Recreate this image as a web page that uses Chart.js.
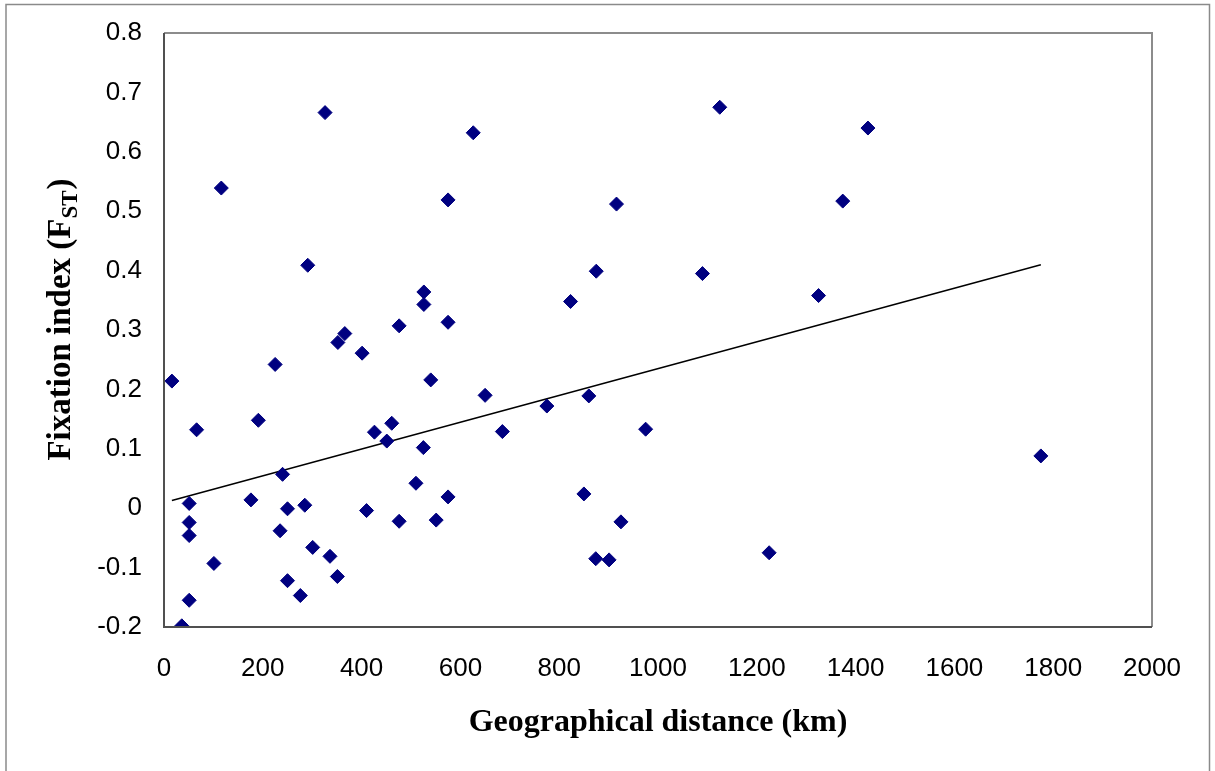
<!DOCTYPE html>
<html>
<head>
<meta charset="utf-8">
<script src="https://cdn.jsdelivr.net/npm/chart.js@4.4.0/dist/chart.umd.min.js"></script>
<style>
  html, body { margin: 0; padding: 0; background: #ffffff; }
  #wrap { width: 1215px; height: 771px; }
</style>
</head>
<body>
<div id="wrap"><canvas id="c" width="1215" height="771"></canvas></div>
<script>
// Geographical distance (km) between population pairs
const distanceKm = [
  326, 626, 116, 575, 291, 526, 526, 823, 476, 575,
  366, 352, 401, 225, 16, 540, 650, 775, 191, 66,
  461, 426, 451, 685, 525, 240, 510, 575, 176, 51,
  250, 285, 410, 51, 476, 551, 51, 235, 301, 336,
  101, 351, 250, 276, 51, 36, 1125, 1425, 916, 1374,
  875, 1090, 1325, 860, 975, 850, 925, 874, 901, 1225,
  1775
];
// Fixation index (FST) for each pair
const fstValues = [
  0.666, 0.632, 0.539, 0.519, 0.409, 0.364, 0.343, 0.348, 0.307, 0.313,
  0.294, 0.279, 0.261, 0.242, 0.214, 0.216, 0.190, 0.172, 0.148, 0.132,
  0.143, 0.128, 0.113, 0.129, 0.102, 0.057, 0.042, 0.019, 0.014, 0.008,
  -0.001, 0.005, -0.004, -0.024, -0.022, -0.020, -0.046, -0.038, -0.066, -0.081,
  -0.093, -0.115, -0.122, -0.147, -0.155, -0.198, 0.675, 0.640, 0.512, 0.517,
  0.399, 0.395, 0.358, 0.189, 0.133, 0.024, -0.023, -0.085, -0.087, -0.075,
  0.088
];
// Linear trend line end points
const trendKm = [16, 1775];
const trendFst = [0.013, 0.410];

const xTitle = 'Geographical distance (km)';
const yTitleMain = 'Fixation index (F';
const yTitleSub = 'ST';
const yTitleEnd = ')';

const scatterData = distanceKm.map((d, i) => ({ x: d, y: fstValues[i] }));
const trendData = trendKm.map((d, i) => ({ x: d, y: trendFst[i] }));

const framePlugin = {
  id: 'framePlugin',
  beforeDraw(chart) {
    const ctx = chart.ctx;
    ctx.save();
    ctx.fillStyle = '#ffffff';
    ctx.fillRect(0, 0, chart.width, chart.height);
    ctx.strokeStyle = '#8a8a8a';
    ctx.lineWidth = 1.5;
    ctx.beginPath();
    ctx.moveTo(6, 800);
    ctx.lineTo(6, 4.5);
    ctx.lineTo(1209.5, 4.5);
    ctx.lineTo(1209.5, 800);
    ctx.stroke();
    ctx.restore();
  },
  afterDatasetsDraw(chart) {
    const ctx = chart.ctx;
    const a = chart.chartArea;
    ctx.save();
    ctx.lineWidth = 2;
    ctx.strokeStyle = '#8c8c8c';
    ctx.beginPath();
    ctx.moveTo(a.left, a.top);
    ctx.lineTo(a.right, a.top);
    ctx.lineTo(a.right, a.bottom);
    ctx.stroke();
    ctx.strokeStyle = '#505050';
    ctx.beginPath();
    ctx.moveTo(a.left, a.top);
    ctx.lineTo(a.left, a.bottom);
    ctx.lineTo(a.right, a.bottom);
    ctx.stroke();
    ctx.restore();
  },
  afterDraw(chart) {
    const ctx = chart.ctx;
    const a = chart.chartArea;
    ctx.save();
    ctx.fillStyle = '#000000';
    ctx.font = 'bold 32px "Liberation Serif", "Times New Roman", serif';
    ctx.textAlign = 'center';
    ctx.textBaseline = 'alphabetic';
    ctx.fillText(xTitle, (a.left + a.right) / 2, 731);
    const mainFont = 'bold 33px "Liberation Serif", "Times New Roman", serif';
    const subFont = 'bold 23px "Liberation Serif", "Times New Roman", serif';
    ctx.font = mainFont;
    const w1 = ctx.measureText(yTitleMain).width;
    const w3 = ctx.measureText(yTitleEnd).width;
    ctx.font = subFont;
    const w2 = ctx.measureText(yTitleSub).width;
    const total = w1 + w2 + w3;
    ctx.translate(70, 320);
    ctx.rotate(-Math.PI / 2);
    ctx.textAlign = 'left';
    const x0 = -total / 2;
    ctx.font = mainFont;
    ctx.fillText(yTitleMain, x0, 0);
    ctx.font = subFont;
    ctx.fillText(yTitleSub, x0 + w1, 7);
    ctx.font = mainFont;
    ctx.fillText(yTitleEnd, x0 + w1 + w2 + 1, 0);
    ctx.restore();
  }
};

new Chart(document.getElementById('c'), {
  data: {
    datasets: [
      {
        type: 'scatter',
        data: scatterData,
        pointStyle: 'rectRot',
        pointRadius: 7,
        pointHoverRadius: 7,
        backgroundColor: '#000080',
        borderColor: '#000080',
        borderWidth: 1,
        order: 1
      },
      {
        type: 'line',
        data: trendData,
        borderColor: '#000000',
        borderWidth: 1.5,
        pointRadius: 0,
        fill: false,
        tension: 0,
        order: 2
      }
    ]
  },
  options: {
    responsive: false,
    animation: false,
    devicePixelRatio: 1,
    layout: { padding: { left: 0, top: 33, right: 63, bottom: 0 } },
    plugins: {
      legend: { display: false },
      tooltip: { enabled: false },
      title: { display: false }
    },
    scales: {
      x: {
        type: 'linear',
        min: 0,
        max: 2000,
        afterFit(s) { s.height = 144; },
        grid: { display: false, drawTicks: false },
        border: { display: false },
        ticks: {
          stepSize: 200,
          padding: 26,
          color: '#000000',
          font: { family: '"Liberation Sans", Arial, sans-serif', size: 26 },
          maxRotation: 0,
          autoSkip: false,
          callback(v) { return String(Math.round(v)); }
        }
      },
      y: {
        type: 'linear',
        min: -0.2,
        max: 0.8,
        afterFit(s) { s.width = 164; s.paddingTop = 0; s.paddingBottom = 0; },
        grid: { display: false, drawTicks: false },
        border: { display: false },
        ticks: {
          stepSize: 0.1,
          padding: 22,
          color: '#000000',
          font: { family: '"Liberation Sans", Arial, sans-serif', size: 26 },
          autoSkip: false,
          callback(v) {
            const r = Math.round(v * 10) / 10;
            return Math.abs(r) < 1e-9 ? '0' : String(r);
          }
        }
      }
    }
  },
  plugins: [framePlugin]
});
</script>
</body>
</html>
